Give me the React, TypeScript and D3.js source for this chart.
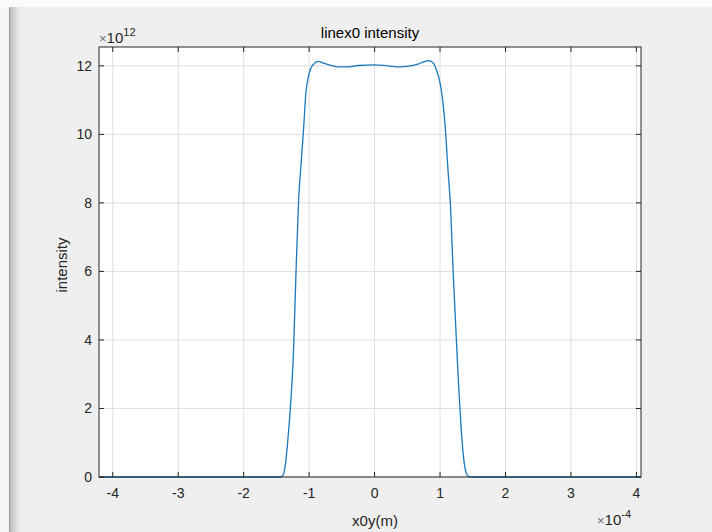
import React, { useEffect, useRef } from "react"
import * as d3 from "d3"

// x0y positions (units of 1e-4 m) and intensity (units of 1e12)
const xs = [-4.21, -3, -2, -1.6, -1.44, -1.40, -1.36, -1.32, -1.28, -1.24, -1.20, -1.16, -1.12, -1.08, -1.05, -1.02, -0.98, -0.93, -0.86, -0.78, -0.68, -0.55, -0.40, -0.25, 0, 0.2, 0.38, 0.52, 0.66, 0.76, 0.83, 0.90, 0.95, 1.0, 1.04, 1.08, 1.12, 1.16, 1.20, 1.24, 1.28, 1.32, 1.36, 1.40, 1.44, 1.5, 2, 3, 4.07]
const ys = [0, 0, 0, 0, 0, 0.05, 0.4, 1.2, 2.2, 3.6, 6.0, 8.1, 9.2, 10.3, 11.2, 11.6, 11.9, 12.05, 12.13, 12.08, 12.02, 11.97, 11.97, 12.01, 12.03, 12.0, 11.97, 11.99, 12.05, 12.12, 12.15, 12.07, 11.85, 11.5, 11.0, 10.2, 9.0, 7.9, 6.0, 4.4, 2.8, 1.5, 0.55, 0.12, 0.01, 0, 0, 0, 0]

const xTicks = [-4, -3, -2, -1, 0, 1, 2, 3, 4]
const yTicks = [0, 2, 4, 6, 8, 10, 12]

const W = 712
const H = 532
const FONT = "'Liberation Sans', Arial, Helvetica, sans-serif"

export default function App() {
    const ref = useRef<SVGSVGElement>(null)

    useEffect(() => {
        const svg = d3.select(ref.current)
        svg.selectAll("*").remove()

        // figure background
        svg.append("rect").attr("width", W).attr("height", H).attr("fill", "#efefef")
        svg.append("rect").attr("width", W).attr("height", 7).attr("fill", "#fbfbfb")
        svg.append("rect").attr("y", 7).attr("width", 9).attr("height", H - 7).attr("fill", "#f6f6f6")
        const grad = svg.append("defs").append("linearGradient").attr("id", "shade")
        grad.append("stop").attr("offset", "0").attr("stop-color", "#9a9a9a")
        grad.append("stop").attr("offset", "0.2").attr("stop-color", "#c8c8c8")
        grad.append("stop").attr("offset", "1").attr("stop-color", "#efefef")
        svg.append("rect").attr("x", 9).attr("y", 7).attr("width", 12).attr("height", H - 7).attr("fill", "url(#shade)")

        const left = 99, right = 641, top = 47, bottom = 477
        const x = d3.scaleLinear().domain([-4.21, 4.07]).range([left, right])
        const y = d3.scaleLinear().domain([0, 12.55]).range([bottom, top])

        svg.append("rect")
            .attr("x", left).attr("y", top)
            .attr("width", right - left).attr("height", bottom - top)
            .attr("fill", "#ffffff")

        // grid
        svg.append("g").selectAll("line").data(xTicks).enter().append("line")
            .attr("x1", d => x(d)).attr("x2", d => x(d))
            .attr("y1", top).attr("y2", bottom)
            .attr("stroke", "#dfdfdf").attr("stroke-width", 1)
        svg.append("g").selectAll("line").data(yTicks).enter().append("line")
            .attr("x1", left).attr("x2", right)
            .attr("y1", d => y(d)).attr("y2", d => y(d))
            .attr("stroke", "#dfdfdf").attr("stroke-width", 1)

        // curve
        const pts = xs.map((v, i) => [v, ys[i]] as [number, number])
        const line = d3.line<[number, number]>()
            .x(d => x(d[0])).y(d => y(d[1]))
            .curve(d3.curveMonotoneX)
        svg.append("path").datum(pts)
            .attr("d", line)
            .attr("fill", "none")
            .attr("stroke", "#1a78bd")
            .attr("stroke-width", 1.3)

        // box and inward ticks
        svg.append("rect")
            .attr("x", left).attr("y", top)
            .attr("width", right - left).attr("height", bottom - top)
            .attr("fill", "none").attr("stroke", "#262626").attr("stroke-width", 1)
        const tl = 5
        xTicks.forEach(t => {
            svg.append("line").attr("x1", x(t)).attr("x2", x(t)).attr("y1", bottom).attr("y2", bottom - tl).attr("stroke", "#262626")
            svg.append("line").attr("x1", x(t)).attr("x2", x(t)).attr("y1", top).attr("y2", top + tl).attr("stroke", "#262626")
        })
        yTicks.forEach(t => {
            svg.append("line").attr("x1", left).attr("x2", left + tl).attr("y1", y(t)).attr("y2", y(t)).attr("stroke", "#262626")
            svg.append("line").attr("x1", right).attr("x2", right - tl).attr("y1", y(t)).attr("y2", y(t)).attr("stroke", "#262626")
        })

        // tick labels
        svg.append("g").selectAll("text").data(xTicks).enter().append("text")
            .attr("x", d => x(d)).attr("y", 498)
            .attr("text-anchor", "middle")
            .attr("font-family", FONT).attr("font-size", 14).attr("fill", "#262626")
            .text(d => String(d))
        svg.append("g").selectAll("text").data(yTicks).enter().append("text")
            .attr("x", 92).attr("y", d => y(d) + 5)
            .attr("text-anchor", "end")
            .attr("font-family", FONT).attr("font-size", 14).attr("fill", "#262626")
            .text(d => String(d))

        // exponent labels
        const e1 = svg.append("text").attr("x", 99).attr("y", 43)
            .attr("font-family", FONT).attr("font-size", 15).attr("fill", "#262626")
        e1.append("tspan").attr("fill", "#707070").attr("font-size", 13).text("\u00d7")
        e1.append("tspan").text("10")
        e1.append("tspan").attr("dy", -7).attr("font-size", 11).text("12")

        const e2 = svg.append("text").attr("x", 597).attr("y", 525)
            .attr("font-family", FONT).attr("font-size", 15).attr("fill", "#262626")
        e2.append("tspan").attr("fill", "#707070").attr("font-size", 13).text("\u00d7")
        e2.append("tspan").text("10")
        e2.append("tspan").attr("dy", -7).attr("font-size", 11).text("-4")

        // title and axis labels
        svg.append("text").attr("x", 370).attr("y", 38)
            .attr("text-anchor", "middle")
            .attr("font-family", FONT).attr("font-size", 15).attr("fill", "#000")
            .text("linex0 intensity")
        svg.append("text").attr("x", 375).attr("y", 526)
            .attr("text-anchor", "middle")
            .attr("font-family", FONT).attr("font-size", 15).attr("fill", "#262626")
            .text("x0y(m)")
        svg.append("text")
            .attr("transform", `translate(67,${(top + bottom) / 2 + 3}) rotate(-90)`)
            .attr("text-anchor", "middle")
            .attr("font-family", FONT).attr("font-size", 15).attr("fill", "#262626")
            .text("intensity")
    }, [])

    return (
        <svg
            ref={ref}
            width={W}
            height={H}
            style={{ position: "absolute", left: 0, top: 0, display: "block" }}
        />
    )
}
